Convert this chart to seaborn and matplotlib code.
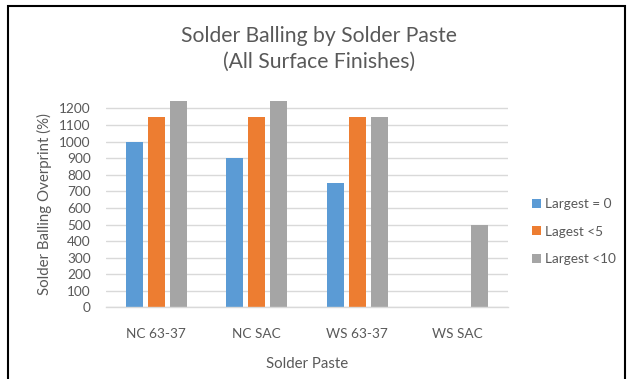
import matplotlib
matplotlib.use("Agg")
import matplotlib.pyplot as plt
from matplotlib.patches import Rectangle
import pandas as pd
import seaborn as sns

# Chart data
pastes = ["NC 63-37", "NC SAC", "WS 63-37", "WS SAC"]
series_names = ["Largest = 0", "Lagest <5", "Largest <10"]
largest_0 = [1000, 900, 750, 0]
largest_lt5 = [1150, 1150, 1150, 0]
largest_lt10 = [1250, 1250, 1150, 500]
y_ticks = list(range(0, 1300, 100))

colors = ["#5B9BD5", "#ED7D31", "#A5A5A5"]
text_color = "#595959"
grid_color = "#D9D9D9"

df = pd.DataFrame({
    "paste": pastes * 3,
    "series": [series_names[0]] * 4 + [series_names[1]] * 4 + [series_names[2]] * 4,
    "value": largest_0 + largest_lt5 + largest_lt10,
})

sns.set_theme(style="white")
plt.rcParams["font.family"] = ["Lato", "DejaVu Sans"]

fig = plt.figure(figsize=(6.31, 3.79), dpi=100)
ax = fig.add_axes([106 / 631, 1 - 307.4 / 379, 402 / 631, 206.4 / 379])

sns.barplot(data=df, x="paste", y="value", hue="series", order=pastes,
            hue_order=series_names, palette=colors, width=0.66, gap=0.22,
            linewidth=0, saturation=1, ax=ax)

ax.set_ylim(0, 1245)
ax.set_yticks(y_ticks)
ax.set_axisbelow(True)
ax.yaxis.grid(True, color=grid_color, linewidth=1)
ax.xaxis.grid(False)
for side in ("top", "right", "left"):
    ax.spines[side].set_visible(False)
ax.spines["bottom"].set_color(grid_color)
ax.spines["bottom"].set_linewidth(1)

ax.tick_params(axis="y", length=0, pad=11, labelsize=9.8, labelcolor=text_color)
ax.tick_params(axis="x", length=0, pad=15, labelsize=9.8, labelcolor=text_color)

ax.set_xlabel("Solder Paste", fontsize=10.8, color=text_color, labelpad=12)
ax.set_ylabel("Solder Balling Overprint (%)", fontsize=10.8, color=text_color, labelpad=5)

fig.text(319 / 631, 1 - 49 / 379, "Solder Balling by Solder Paste\n(All Surface Finishes)",
         ha="center", va="center", fontsize=15.2, color=text_color, linespacing=1.38)

old = ax.get_legend()
handles = old.legend_handles
labels = [t.get_text() for t in old.get_texts()]
old.remove()
leg = ax.legend(handles, labels, loc="center left",
                bbox_to_anchor=(532 / 631, 1 - 231.7 / 379), bbox_transform=fig.transFigure,
                frameon=False, fontsize=9.8, handlelength=0.65, handleheight=0.65,
                handletextpad=0.3, labelspacing=1.15, borderpad=0, borderaxespad=0)
for t in leg.get_texts():
    t.set_color(text_color)

# Outer frame around the chart
fig.add_artist(Rectangle((8 / 631, -0.05), 617 / 631, 1.05 - 6 / 379,
                         transform=fig.transFigure, fill=False,
                         edgecolor="black", linewidth=1.5))

fig.savefig("out.png", dpi=100)
